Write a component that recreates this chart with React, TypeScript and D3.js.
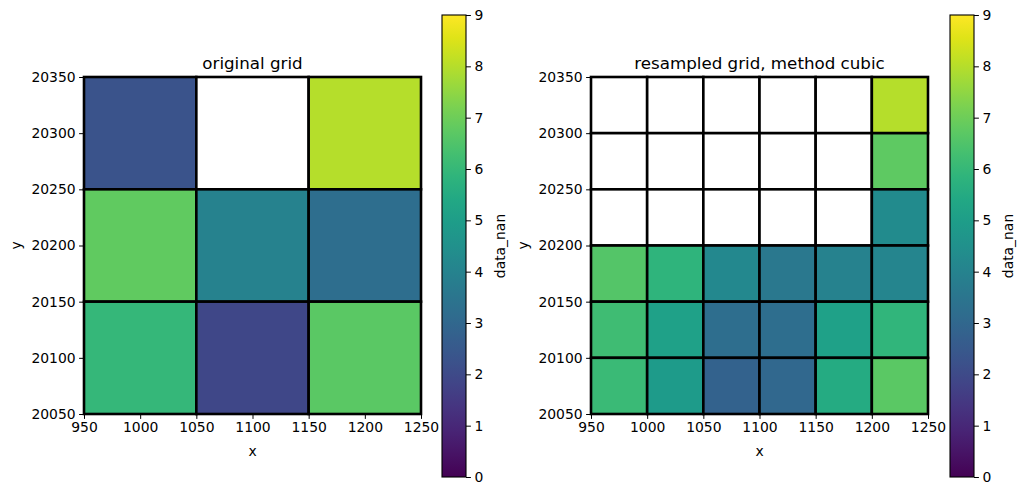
import React, { useEffect, useRef } from "react";
import * as d3 from "d3";

// cell values, rows listed from top (north) to bottom; NaN = no data
const originalGrid = [
  [2.3, NaN, 8.0],
  [6.8, 4.0, 3.2],
  [6.0, 1.9, 6.7],
];

const resampledGrid = [
  [NaN, NaN, NaN, NaN, NaN, 8.0],
  [NaN, NaN, NaN, NaN, NaN, 6.75],
  [NaN, NaN, NaN, NaN, NaN, 4.3],
  [6.6, 5.85, 4.2, 3.6, 4.0, 4.1],
  [6.2, 5.1, 3.2, 3.2, 5.1, 5.9],
  [6.1, 4.9, 2.8, 3.0, 5.5, 6.7],
];

const xExtent = [950, 1250];
const yExtent = [20050, 20350];
const xTicks = [950, 1000, 1050, 1100, 1150, 1200, 1250];
const yTicks = [20050, 20100, 20150, 20200, 20250, 20300, 20350];
const colorTicks = [0, 1, 2, 3, 4, 5, 6, 7, 8, 9];

const panels = [
  { title: "original grid", grid: originalGrid, left: 84, cbLeft: 442 },
  { title: "resampled grid, method cubic", grid: resampledGrid, left: 591, cbLeft: 950 },
];

const W = 1021;
const H = 495;
const FONT = "DejaVu Sans, sans-serif";

const App = () => {
  const svgRef = useRef<SVGSVGElement>(null);

  useEffect(() => {
    const svg = d3.select(svgRef.current);
    svg.selectAll("*").remove();

    const top = 77;
    const size = 337;
    const cbTop = 15;
    const cbBottom = 477;
    const cbWidth = 24;

    const color = d3.scaleSequential(d3.interpolateViridis).domain([0, 9]);

    const defs = svg.append("defs");
    const grad = defs
      .append("linearGradient")
      .attr("id", "viridis")
      .attr("x1", 0)
      .attr("x2", 0)
      .attr("y1", 1)
      .attr("y2", 0);
    d3.range(0, 1.0001, 0.05).forEach((t) => {
      grad
        .append("stop")
        .attr("offset", t)
        .attr("stop-color", d3.interpolateViridis(t));
    });

    panels.forEach((p) => {
      const x = d3.scaleLinear().domain(xExtent).range([p.left, p.left + size]);
      const y = d3.scaleLinear().domain(yExtent).range([top + size, top]);

      const nRows = p.grid.length;
      const nCols = p.grid[0].length;
      const dx = (xExtent[1] - xExtent[0]) / nCols;
      const dy = (yExtent[1] - yExtent[0]) / nRows;

      const cells = p.grid.flatMap((row, r) =>
        row.map((v, c) => ({
          x0: xExtent[0] + c * dx,
          x1: xExtent[0] + (c + 1) * dx,
          y1: yExtent[1] - r * dy,
          y0: yExtent[1] - (r + 1) * dy,
          v,
        }))
      );

      const g = svg.append("g");

      g.selectAll("rect.cell")
        .data(cells)
        .enter()
        .append("rect")
        .attr("x", (d) => x(d.x0))
        .attr("y", (d) => y(d.y1))
        .attr("width", (d) => x(d.x1) - x(d.x0))
        .attr("height", (d) => y(d.y0) - y(d.y1))
        .attr("fill", (d) => (isNaN(d.v) ? "#ffffff" : color(d.v)))
        .attr("stroke", "#000")
        .attr("stroke-width", 2.6);

      // x axis
      const xAxis = g
        .append("g")
        .attr("transform", `translate(0,${top + size})`)
        .call(d3.axisBottom(x).tickValues(xTicks).tickFormat(d3.format("d")).tickSizeOuter(0).tickSize(4.9).tickPadding(3.5));
      xAxis.select(".domain").remove();
      xAxis.selectAll("text").attr("font-size", 13.9).attr("font-family", FONT).attr("fill", "#000");

      const yAxis = g
        .append("g")
        .attr("transform", `translate(${p.left},0)`)
        .call(d3.axisLeft(y).tickValues(yTicks).tickFormat(d3.format("d")).tickSizeOuter(0).tickSize(4.9).tickPadding(3.5));
      yAxis.select(".domain").remove();
      yAxis.selectAll("text").attr("font-size", 13.9).attr("font-family", FONT).attr("fill", "#000");

      g.append("rect")
        .attr("x", p.left)
        .attr("y", top)
        .attr("width", size)
        .attr("height", size)
        .attr("fill", "none")
        .attr("stroke", "#000")
        .attr("stroke-width", 1.1);

      g.append("text")
        .attr("x", p.left + size / 2)
        .attr("y", top - 8)
        .attr("text-anchor", "middle")
        .attr("font-family", FONT)
        .attr("font-size", 16.7)
        .text(p.title);

      g.append("text")
        .attr("x", p.left + size / 2)
        .attr("y", 456)
        .attr("text-anchor", "middle")
        .attr("font-family", FONT)
        .attr("font-size", 13.9)
        .text("x");

      g.append("text")
        .attr("transform", `translate(${p.left - 63},${top + size / 2}) rotate(-90)`)
        .attr("text-anchor", "middle")
        .attr("font-family", FONT)
        .attr("font-size", 13.9)
        .text("y");

      // colorbar
      const cy = d3.scaleLinear().domain([0, 9]).range([cbBottom, cbTop]);
      g.append("rect")
        .attr("x", p.cbLeft)
        .attr("y", cbTop)
        .attr("width", cbWidth)
        .attr("height", cbBottom - cbTop)
        .attr("fill", "url(#viridis)")
        .attr("stroke", "#000")
        .attr("stroke-width", 1.1);

      const cAxis = g
        .append("g")
        .attr("transform", `translate(${p.cbLeft + cbWidth},0)`)
        .call(d3.axisRight(cy).tickValues(colorTicks).tickSizeOuter(0).tickSize(4.9).tickPadding(3.5));
      cAxis.select(".domain").remove();
      cAxis.selectAll("text").attr("font-size", 13.9).attr("font-family", FONT).attr("fill", "#000");

      g.append("text")
        .attr("transform", `translate(${p.cbLeft + cbWidth + 39},${(cbTop + cbBottom) / 2}) rotate(-90)`)
        .attr("text-anchor", "middle")
        .attr("font-family", FONT)
        .attr("font-size", 13.9)
        .text("data_nan");
    });
  }, []);

  return (
    <svg
      ref={svgRef}
      width={W}
      height={H}
      style={{ position: "absolute", left: 0, top: 0, background: "#fff" }}
    ></svg>
  );
};

export default App;
